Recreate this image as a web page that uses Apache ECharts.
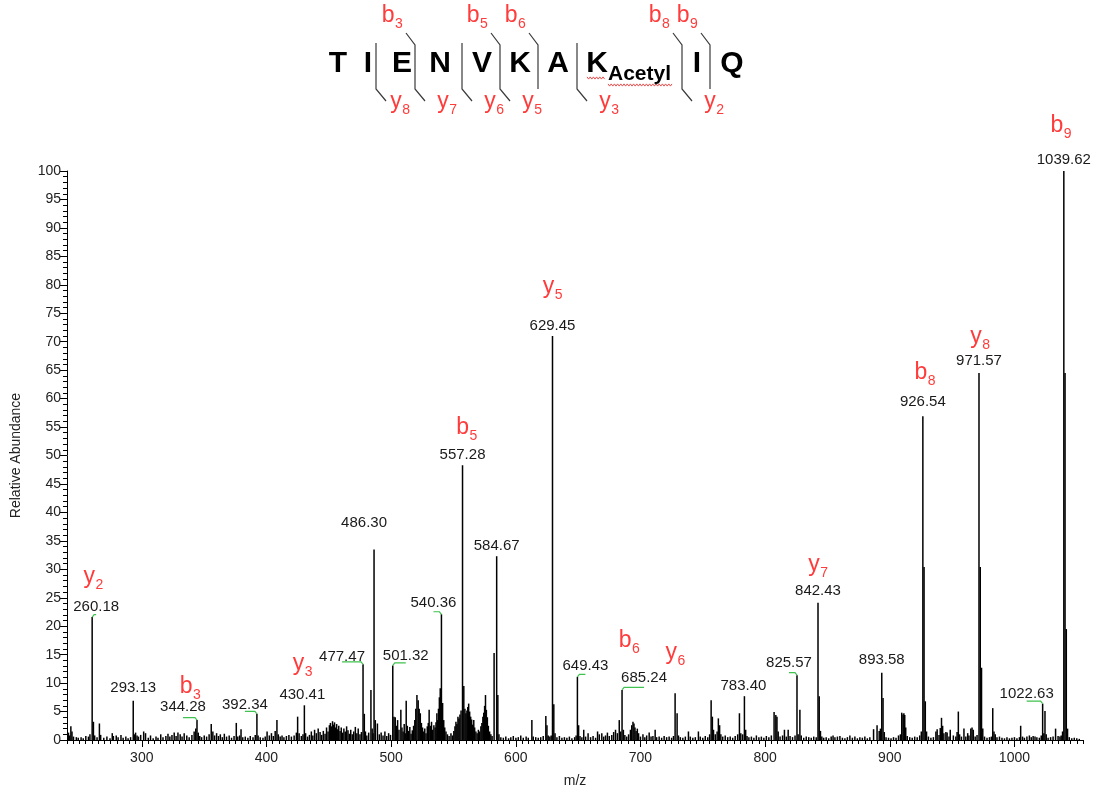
<!DOCTYPE html>
<html>
<head>
<meta charset="utf-8">
<title>TIENVKAK(Acetyl)IQ MS/MS spectrum</title>
<script src="https://cdn.jsdelivr.net/npm/echarts@6/dist/echarts.min.js"></script>
<style>
  html, body { margin: 0; padding: 0; background: #ffffff; }
  #chart { width: 1097px; height: 792px; }
</style>
</head>
<body>
<div id="chart"></div>
<script>
// ---------------------------------------------------------------------------
// Spectrum data: m/z and relative abundance (%)
// ---------------------------------------------------------------------------

// Peaks carrying an m/z label
const labelledMz = [260.18, 293.13, 344.28, 392.34, 430.41, 477.47, 486.30, 501.32, 540.36,
  557.28, 584.67, 629.45, 649.43, 685.24, 783.40, 825.57, 842.43, 893.58, 926.54, 971.57,
  1022.63, 1039.62];
const labelledAbundance = [21.6, 6.9, 3.5, 4.6, 6.1, 13.3, 33.5, 13.1, 22.1,
  48.3, 32.3, 71.0, 11.1, 8.8, 7.7, 11.4, 24.1, 11.8, 56.9, 64.5,
  6.4, 100];

// Isotope peaks next to the main fragments
const isotopePeaks = [[261.2, 3.2], [478.5, 4.6], [558.3, 9.5], [585.6, 7.9], [630.5, 6.3],
  [650.4, 2.6], [843.4, 7.7], [894.6, 7.4], [927.5, 30.4], [928.5, 6.8], [972.6, 30.4],
  [973.6, 12.7], [1040.6, 64.5], [1041.6, 19.5], [1042.6, 2.0]];

// Unlabelled peaks and baseline noise
const minorPeaks = [
  [241.2, 1.3], [242.0, 0.8], [243.1, 2.4], [244.0, 1.5], [245.2, 0.6], [247.5, 0.5], [249.0, 0.4],
  [251.3, 0.5], [253.0, 0.3], [255.1, 0.7], [257.2, 0.6], [258.4, 1.0], [262.2, 0.8], [264.1, 0.5],
  [266.0, 2.9], [267.0, 0.9], [269.5, 0.4], [272.0, 0.6], [274.5, 0.3], [276.3, 1.2], [277.2, 0.7],
  [279.5, 0.8], [281.0, 0.5], [283.3, 0.9], [285.0, 0.4], [287.2, 0.6], [289.0, 0.3], [291.0, 0.5],
  [294.1, 1.0], [295.0, 1.3], [296.2, 0.8], [297.3, 0.6], [299.1, 0.9], [301.5, 1.5], [303.0, 1.2],
  [305.2, 0.4], [307.0, 0.8], [309.1, 0.3], [311.4, 0.6], [313.0, 0.4], [315.2, 1.0], [317.0, 0.5],
  [319.3, 0.7], [321.0, 1.1], [322.5, 0.6], [324.2, 0.9], [326.0, 1.3], [327.5, 0.7], [329.0, 1.3],
  [330.8, 1.0], [332.3, 0.6], [334.0, 1.2], [336.1, 0.8], [338.0, 0.5], [340.2, 0.9], [342.0, 1.5],
  [343.3, 2.0], [345.3, 1.3], [346.5, 0.7], [348.0, 0.5], [350.1, 0.8], [352.0, 0.6], [354.0, 1.0],
  [355.7, 2.8], [357.0, 1.5], [358.4, 0.8], [360.0, 1.2], [361.5, 0.7], [363.0, 1.0], [364.6, 0.5],
  [366.2, 1.1], [368.0, 0.6], [370.1, 0.8], [372.0, 0.4], [374.0, 0.7], [375.8, 3.0], [377.0, 0.6],
  [378.5, 0.8], [379.6, 1.9], [381.0, 0.5], [383.0, 0.6], [385.1, 0.4], [387.0, 0.7], [389.2, 0.5],
  [391.0, 0.9], [393.3, 0.8], [395.0, 0.5], [397.2, 0.4], [399.0, 0.6], [400.5, 1.5], [402.3, 0.8],
  [404.0, 1.2], [405.5, 0.7], [407.0, 1.6], [408.4, 3.5], [409.5, 1.0], [411.0, 0.6], [412.5, 0.8],
  [414.0, 0.5], [416.0, 0.7], [418.0, 0.9], [420.0, 0.6], [422.2, 0.8], [424.0, 1.3], [425.0, 4.1],
  [426.2, 1.2], [428.0, 0.7], [429.3, 1.0], [431.4, 1.2], [433.0, 0.6], [434.5, 0.9], [436.0, 1.5],
  [437.2, 0.8], [438.6, 1.8], [440.0, 1.2], [441.5, 2.0], [443.0, 1.4], [444.3, 0.9], [445.6, 1.6],
  [447.0, 1.1], [448.2, 2.2], [449.4, 1.5], [450.5, 2.6], [451.3, 3.0], [452.1, 2.4], [453.0, 3.3],
  [453.8, 2.7], [454.6, 3.1], [455.4, 2.2], [456.3, 2.8], [457.2, 1.9], [458.0, 2.5], [459.0, 1.6],
  [460.0, 2.2], [461.0, 1.3], [462.1, 2.0], [463.2, 1.5], [464.3, 2.4], [465.4, 1.7], [466.5, 1.1],
  [467.6, 1.8], [468.8, 1.0], [470.0, 1.5], [471.3, 2.3], [472.5, 1.2], [473.6, 2.0], [475.0, 1.0],
  [476.2, 1.4], [479.4, 1.5], [480.5, 0.8], [482.0, 1.3], [483.8, 8.8], [484.8, 2.0], [485.5, 1.2],
  [487.3, 3.5], [489.0, 2.9], [490.5, 1.0], [492.0, 1.3], [493.5, 0.8], [495.0, 1.5], [496.5, 0.7],
  [498.0, 1.2], [499.5, 0.9], [502.3, 4.1], [503.3, 4.0], [504.2, 2.5], [505.2, 3.5], [506.3, 1.8],
  [507.8, 5.3], [508.7, 2.2], [509.6, 1.5], [510.5, 2.8], [511.3, 1.2], [512.1, 6.9], [513.0, 2.5],
  [514.0, 1.6], [515.0, 2.3], [516.0, 1.1], [517.0, 1.7], [518.0, 2.5], [519.0, 3.5], [519.8, 5.5],
  [520.7, 7.9], [521.7, 7.0], [522.5, 5.5], [523.4, 4.7], [524.3, 3.0], [525.2, 2.2], [526.2, 1.5],
  [527.0, 2.0], [528.0, 1.2], [529.0, 2.4], [529.8, 3.0], [530.5, 5.3], [531.4, 2.5], [532.4, 3.2],
  [533.3, 1.8], [534.3, 2.6], [535.3, 2.2], [536.0, 3.1], [536.7, 4.7], [537.4, 3.5], [538.0, 5.5],
  [538.7, 7.5], [539.4, 9.1], [541.3, 6.5], [542.2, 3.5], [543.0, 2.2], [544.0, 1.5], [545.2, 1.0],
  [546.5, 0.7], [548.0, 1.2], [549.2, 0.8], [550.3, 1.6], [551.2, 2.4], [552.0, 3.2], [552.8, 2.8],
  [553.6, 4.1], [554.4, 3.8], [555.2, 4.5], [556.1, 5.2], [559.2, 5.5], [560.0, 4.7], [560.8, 5.2],
  [561.5, 5.8], [562.2, 6.4], [563.0, 5.0], [563.8, 4.1], [564.6, 3.6], [565.4, 2.7], [566.3, 3.5],
  [567.0, 2.2], [568.0, 1.5], [569.0, 1.2], [570.0, 1.8], [571.0, 1.5], [572.0, 2.4], [572.8, 3.0],
  [573.6, 4.1], [574.3, 4.8], [575.0, 6.0], [575.7, 7.9], [576.4, 5.3], [577.2, 4.0], [578.0, 2.5],
  [579.0, 1.5], [580.0, 1.0], [581.0, 0.7], [582.6, 15.3], [586.5, 1.0], [588.0, 0.5], [590.0, 0.4],
  [592.0, 0.6], [594.2, 0.3], [596.0, 0.5], [598.0, 0.7], [600.1, 0.4], [602.0, 0.5], [604.0, 0.8],
  [606.0, 0.4], [608.3, 0.6], [610.0, 0.4], [612.9, 3.5], [614.0, 0.6], [616.0, 0.5], [618.0, 0.4],
  [620.0, 0.5], [622.0, 0.7], [624.1, 4.2], [625.0, 2.6], [626.0, 0.8], [627.3, 0.6], [628.4, 0.8],
  [631.5, 1.2], [633.0, 0.5], [635.0, 0.7], [637.0, 0.4], [639.0, 0.5], [641.0, 0.4], [643.0, 0.6],
  [645.0, 0.3], [647.2, 0.5], [648.4, 0.8], [651.5, 0.7], [653.0, 0.5], [654.5, 1.8], [656.0, 0.6],
  [658.0, 1.2], [660.0, 0.5], [662.0, 0.7], [664.0, 0.4], [665.6, 1.5], [667.0, 1.0], [669.0, 1.2],
  [670.5, 0.6], [672.0, 0.8], [673.5, 1.3], [675.0, 0.7], [677.0, 0.9], [678.5, 1.4], [680.0, 1.8],
  [681.5, 1.2], [683.0, 3.5], [684.2, 1.5], [686.3, 1.8], [687.5, 0.9], [689.0, 0.6], [690.5, 1.0],
  [692.0, 1.8], [693.0, 2.6], [694.0, 3.2], [694.8, 2.9], [695.6, 2.2], [696.5, 1.6], [697.5, 2.0],
  [698.5, 1.2], [700.0, 0.6], [702.0, 1.0], [703.5, 0.5], [705.0, 0.8], [707.0, 1.3], [708.5, 0.6],
  [710.0, 0.7], [711.8, 1.8], [713.0, 0.5], [715.0, 0.6], [717.0, 0.4], [719.0, 0.7], [721.0, 0.5],
  [723.0, 0.6], [725.0, 0.4], [726.5, 0.7], [727.8, 8.2], [729.4, 4.7], [730.5, 0.8], [732.0, 0.5],
  [734.0, 0.4], [736.0, 0.6], [738.5, 1.5], [740.0, 0.6], [742.0, 0.4], [744.0, 0.5], [746.5, 1.5],
  [748.0, 0.6], [750.0, 0.4], [752.0, 0.7], [754.0, 0.5], [755.5, 1.0], [756.7, 7.0], [757.7, 4.1],
  [758.6, 1.8], [760.0, 1.0], [761.5, 1.5], [762.5, 3.8], [763.5, 2.6], [764.5, 1.0], [766.0, 0.6],
  [768.0, 0.8], [770.0, 0.5], [772.0, 0.6], [774.0, 0.4], [776.0, 0.7], [778.0, 1.0], [779.4, 4.7],
  [780.5, 1.2], [782.0, 1.0], [784.4, 1.8], [785.5, 0.7], [787.0, 0.5], [789.0, 0.6], [791.0, 0.4],
  [793.0, 0.8], [795.0, 0.5], [797.0, 0.6], [799.0, 0.4], [801.0, 0.7], [803.0, 0.5], [805.0, 0.8],
  [807.2, 4.9], [808.6, 4.4], [809.5, 4.1], [810.5, 1.5], [812.0, 0.6], [814.0, 0.8], [815.5, 1.8],
  [817.0, 0.6], [818.5, 1.8], [820.0, 0.7], [822.0, 0.5], [824.0, 0.8], [826.5, 1.0], [827.9, 5.3],
  [829.0, 0.8], [831.0, 0.4], [833.0, 0.6], [835.0, 0.5], [837.0, 0.4], [839.0, 0.6], [841.0, 0.5],
  [844.4, 1.6], [845.5, 0.6], [847.0, 0.4], [849.0, 0.5], [851.0, 0.3], [853.0, 0.6], [854.5, 0.8],
  [856.0, 0.5], [858.0, 0.6], [860.0, 0.7], [862.0, 0.4], [864.0, 0.3], [866.0, 0.5], [868.0, 0.8],
  [870.0, 0.4], [872.0, 0.6], [874.0, 0.3], [876.0, 0.5], [878.0, 0.4], [880.0, 0.6], [882.0, 0.3],
  [884.0, 0.5], [887.0, 1.9], [889.8, 2.6], [891.5, 1.6], [892.5, 2.0], [895.6, 1.4], [897.0, 0.5],
  [899.0, 0.4], [901.0, 0.3], [903.0, 0.5], [905.0, 0.4], [907.0, 0.8], [908.5, 1.0], [909.6, 4.8],
  [910.6, 4.5], [911.3, 4.7], [912.0, 4.4], [912.8, 2.2], [914.0, 0.7], [916.0, 0.5], [918.0, 0.4],
  [920.0, 0.6], [922.0, 0.5], [924.0, 0.8], [925.3, 1.5], [929.5, 1.5], [931.0, 0.6], [933.0, 0.4],
  [935.0, 0.5], [937.0, 1.5], [938.0, 1.9], [939.5, 0.9], [940.5, 2.1], [941.5, 3.9], [942.4, 2.5],
  [943.4, 1.2], [945.0, 1.4], [946.0, 1.3], [947.5, 0.6], [948.5, 1.8], [951.0, 0.8], [953.0, 0.6],
  [954.0, 1.4], [955.0, 5.0], [956.0, 1.0], [957.5, 0.6], [959.5, 2.0], [961.0, 0.6], [962.5, 1.2],
  [963.5, 0.8], [965.0, 2.0], [966.0, 2.2], [967.0, 1.8], [968.5, 0.6], [970.0, 0.9], [974.6, 2.0],
  [976.0, 0.6], [978.0, 0.4], [980.0, 0.5], [981.5, 0.6], [982.6, 5.6], [983.6, 1.5], [984.6, 1.0],
  [986.0, 0.5], [988.0, 0.6], [990.0, 0.4], [992.0, 0.3], [994.0, 0.5], [996.0, 0.3], [998.0, 0.4],
  [1000.0, 0.5], [1002.0, 0.3], [1004.0, 0.5], [1005.0, 2.5], [1006.5, 0.6], [1008.0, 0.4],
  [1010.0, 0.6], [1012.0, 0.8], [1013.5, 0.5], [1015.0, 0.7], [1016.5, 0.6], [1018.0, 0.5],
  [1020.0, 0.4], [1021.5, 0.8], [1023.6, 1.2], [1024.5, 5.1], [1025.5, 1.0], [1027.0, 0.4],
  [1029.0, 0.5], [1031.0, 0.6], [1033.0, 2.0], [1035.0, 0.7], [1036.5, 0.6], [1037.5, 0.8],
  [1038.6, 1.5], [1044.0, 0.5], [1046.0, 0.3], [1048.0, 0.4], [1050.0, 0.3], [1052.0, 0.2]
];

// Fragment ion assignments (series letter, index, peak m/z)
const ionSeries = ['y', 'b', 'y', 'b', 'y', 'b', 'y', 'y', 'b', 'y', 'b'];
const ionNumber = [2, 3, 3, 5, 5, 6, 6, 7, 8, 8, 9];
const ionMz = [260.18, 344.28, 430.41, 557.28, 629.45, 685.24, 727.8, 842.43, 926.54, 971.57, 1039.62];

// Peptide sequence and observed cleavages
const residues = ['T', 'I', 'E', 'N', 'V', 'K', 'A', 'K', 'I', 'Q'];
const modifiedResidue = 7;          // zero-based position of the acetylated lysine
const modificationName = 'Acetyl';
const bIons = [3, 5, 6, 8, 9];
const yIons = [8, 7, 6, 5, 3, 2];

// Axis tick values
const xTickValues = [300, 400, 500, 600, 700, 800, 900, 1000];
const mzRange = [240, 1055];
const abundanceRange = [0, 100];

// ---------------------------------------------------------------------------
// Layout and styling
// ---------------------------------------------------------------------------
const FONT = '"Liberation Sans", Arial, Helvetica, sans-serif';
const RED = '#ff3b3b';
const GREEN = '#3fc24f';

// m/z label placement: [dx from the peak, distance of text centre above peak top]
const mzLabelShift = [[4, 10], [0, 13], [-14, 13], [-12, 9], [-2, 10], [-21, 7], [-10, 27], [13, 10],
  [-8, 11], [0, 10], [0, 10], [0, 10], [8, 11], [22, 12], [-1, 10], [-8, 12], [0, 12], [0, 13],
  [0, 14], [0, 12], [-16, 10], [0, 11]];
// labels joined to their peak by a short leader
const leaderLabels = [260.18, 344.28, 392.34, 477.47, 501.32, 540.36, 649.43, 685.24, 825.57, 1022.63];
// ion label placement: [dx, distance of letter centre above peak top]
const ionLabelShift = [[1, 40], [-7, 33], [-2, 42], [4, 38], [0, 49], [7, 49], [0, 41], [0, 38],
  [2, 44], [1, 36], [-3, 45]];

// peptide header
const residueX = [338, 368, 402, 440, 482, 520, 558, 597, 697, 732];
const separatorX = { 2: 376, 3: 415, 4: 462, 5: 500, 6: 538, 7: 577, 8: 682, 9: 710 };
const headerY = { residue: 64, top: 43, topB: 45, bottom: 89, bTip: 33, yTip: 101, bLabel: 16, yLabel: 102 };

const measureCtx = document.createElement('canvas').getContext('2d');
function textWidth(t, font) { measureCtx.font = font; return measureCtx.measureText(t).width; }

function textEl(x, y, text, font, fill, align) {
  return {
    type: 'text', x: x, y: y, silent: true,
    style: {
      text: text, font: font, fill: fill,
      align: align || 'center', verticalAlign: 'middle',
      textAlign: align || 'center', textVerticalAlign: 'middle'
    }
  };
}

// letter with subscript digits, centred on (cx, cy)
function ionLabel(cx, cy, letter, n) {
  const fMain = '23px ' + FONT, fSub = '14px ' + FONT;
  const wl = textWidth(letter, fMain), ws = textWidth(String(n), fSub);
  const left = cx - (wl + ws) / 2;
  return [
    textEl(left, cy, letter, fMain, RED, 'left'),
    textEl(left + wl + 0.5, cy + 8.5, String(n), fSub, RED, 'left')
  ];
}

// ---------------------------------------------------------------------------
// Series data
// ---------------------------------------------------------------------------
const stickData = labelledMz.map((m, i) => [m, labelledAbundance[i]])
  .concat(isotopePeaks, minorPeaks);

function abundanceAt(mz) {
  let best = stickData[0];
  stickData.forEach(p => { if (Math.abs(p[0] - mz) < Math.abs(best[0] - mz)) best = p; });
  return best[1];
}

const mzLabelData = labelledMz.map((m, i) => [m, labelledAbundance[i], i]);
const ionLabelData = ionMz.map((m, i) => [m, abundanceAt(m), i]);

// ---------------------------------------------------------------------------
// Peptide header graphics
// ---------------------------------------------------------------------------
const header = [];
residues.forEach((r, i) => {
  header.push(textEl(residueX[i], headerY.residue, r, 'bold 30px ' + FONT, '#000'));
});
const modX = residueX[modifiedResidue] + 11;
header.push(textEl(modX, headerY.residue + 10, modificationName, 'bold 21px ' + FONT, '#000', 'left'));

// wavy spell-check style underline under the modified residue
function wavy(x0, x1, y) {
  const pts = [];
  let up = true;
  for (let x = x0; x <= x1; x += 1.6) { pts.push([x, y + (up ? -1.1 : 1.1)]); up = !up; }
  return { type: 'polyline', silent: true, shape: { points: pts },
    style: { stroke: '#e23b3b', lineWidth: 0.9, fill: null } };
}
header.push(wavy(modX - 21, modX - 2, headerY.residue + 14));
header.push(wavy(modX, modX + 65, headerY.residue + 21));

for (let n = 1; n < residues.length; n++) {
  const hasB = bIons.indexOf(n) >= 0;
  const yN = residues.length - n;
  const hasY = yIons.indexOf(yN) >= 0;
  if (!hasB && !hasY) continue;
  const x = separatorX[n];
  const pts = [];
  if (hasB) pts.push([x - 9, headerY.bTip]);
  pts.push([x, hasB ? headerY.topB : headerY.top]);
  pts.push([x, headerY.bottom]);
  if (hasY) pts.push([x + 10, headerY.yTip]);
  header.push({ type: 'polyline', silent: true, shape: { points: pts },
    style: { stroke: '#3a3a3a', lineWidth: 1.2, fill: null } });
  if (hasB) ionLabel(x - 23, headerY.bLabel, 'b', n).forEach(e => header.push(e));
  if (hasY) ionLabel(x + (yN === 8 ? 24 : 32), headerY.yLabel, 'y', yN).forEach(e => header.push(e));
}

// ---------------------------------------------------------------------------
// Chart
// ---------------------------------------------------------------------------
const chart = echarts.init(document.getElementById('chart'), null, { renderer: 'canvas' });

const minorXTicks = [];
for (let v = mzRange[0]; v <= mzRange[1]; v += 5) minorXTicks.push(v);

chart.setOption({
  animation: false,
  backgroundColor: '#ffffff',
  textStyle: { fontFamily: FONT },
  grid: { left: 67, right: 14, top: 171, bottom: 52, outerBoundsMode: 'none', containLabel: false },
  xAxis: [{
    type: 'value', min: mzRange[0], max: mzRange[1],
    name: 'm/z', nameLocation: 'middle', nameGap: 34,
    nameTextStyle: { fontSize: 14, color: '#222', fontFamily: FONT },
    axisLine: { show: true, onZero: false, lineStyle: { color: '#000', width: 1 } },
    axisTick: { show: true, customValues: xTickValues, length: 7, lineStyle: { color: '#000' } },
    axisLabel: {
      show: true, customValues: xTickValues, fontSize: 14, color: '#222', margin: 11, fontFamily: FONT,
      formatter: function (v) { return String(v); }
    },
    splitLine: { show: false }
  }, {
    type: 'value', min: mzRange[0], max: mzRange[1], position: 'bottom',
    axisLine: { show: false },
    axisTick: { show: true, customValues: minorXTicks, length: 4, lineStyle: { color: '#000' } },
    axisLabel: { show: false },
    splitLine: { show: false }
  }],
  yAxis: {
    type: 'value', min: abundanceRange[0], max: abundanceRange[1], interval: 5,
    name: 'Relative Abundance', nameLocation: 'middle', nameGap: 44, nameRotate: 90,
    nameTextStyle: { fontSize: 14, color: '#222', fontFamily: FONT },
    axisLine: { show: true, lineStyle: { color: '#000', width: 1 } },
    axisTick: { show: true, length: 7, lineStyle: { color: '#000' } },
    minorTick: { show: true, splitNumber: 5, length: 4, lineStyle: { color: '#000' } },
    axisLabel: { fontSize: 14, color: '#222', margin: 6, fontFamily: FONT,
      formatter: function (v) { return String(v); } },
    splitLine: { show: false }, minorSplitLine: { show: false }
  },
  series: [{
    name: 'spectrum', type: 'custom', xAxisIndex: 0, yAxisIndex: 0,
    silent: true, clip: false,
    encode: { x: 0, y: 1 },
    data: stickData,
    renderItem: function (params, api) {
      const base = api.coord([api.value(0), 0]);
      const top = api.coord([api.value(0), api.value(1)]);
      return {
        type: 'line',
        shape: { x1: base[0], y1: base[1], x2: top[0], y2: top[1] },
        style: { stroke: '#000', lineWidth: 1.5 }
      };
    }
  }, {
    name: 'm/z labels', type: 'custom', silent: true, clip: false,
    encode: { x: 0, y: 1 },
    data: mzLabelData,
    renderItem: function (params, api) {
      const i = api.value(2);
      const p = api.coord([api.value(0), api.value(1)]);
      const sh = mzLabelShift[i];
      const cx = p[0] + sh[0], cy = p[1] - sh[1];
      const children = [textEl(cx, cy, labelledMz[i].toFixed(2), '15px ' + FONT, '#1a1a1a')];
      if (leaderLabels.indexOf(labelledMz[i]) >= 0) {
        const ly = p[1] - 2.5;
        const side = sh[0] < 0 ? -1 : 1;
        children.push({
          type: 'polyline',
          shape: { points: [[cx, ly], [p[0] + side * 2, ly], [p[0], p[1]]] },
          style: { stroke: GREEN, lineWidth: 1.2, fill: null }
        });
      }
      return { type: 'group', children: children };
    }
  }, {
    name: 'ion labels', type: 'custom', silent: true, clip: false,
    encode: { x: 0, y: 1 },
    data: ionLabelData,
    renderItem: function (params, api) {
      const i = api.value(2);
      const p = api.coord([api.value(0), api.value(1)]);
      const sh = ionLabelShift[i];
      return { type: 'group', children: ionLabel(p[0] + sh[0], p[1] - sh[1], ionSeries[i], ionNumber[i]) };
    }
  }],
  graphic: header
});
</script>
</body>
</html>
